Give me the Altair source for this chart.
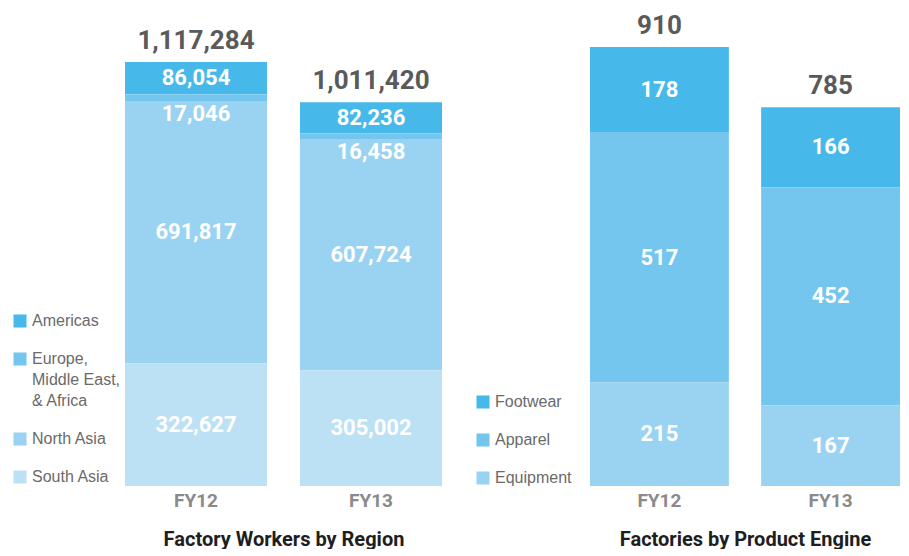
import altair as alt
import pandas as pd

periods = ["FY12", "FY13"]

regions = ["Americas", "Europe, Middle East, & Africa", "North Asia", "South Asia"]
region_fy12 = [86054, 17046, 691817, 322627]
region_fy13 = [82236, 16458, 607724, 305002]
region_totals = [1117284, 1011420]
region_colors = ["#46B9EA", "#74C6EE", "#9AD3F1", "#BCE1F5"]

engines = ["Footwear", "Apparel", "Equipment"]
engine_fy12 = [178, 517, 215]
engine_fy13 = [166, 452, 167]
engine_totals = [910, 785]
engine_colors = ["#46B9EA", "#74C6EE", "#9AD3F1"]

NUM_FONT = "Roboto"
LEG_FONT = "Liberation Sans"


def long_table(cats, fy12, fy13):
    rows = []
    for p, vals in zip(periods, [fy12, fy13]):
        for i, (c, v) in enumerate(zip(cats, vals)):
            rows.append({"period": p, "cat": c, "value": v, "rank": len(cats) - i})
    return pd.DataFrame(rows)


def panel(cats, fy12, fy13, totals, colors, title, ymax, legend_x, legend_y, width):
    df = long_table(cats, fy12, fy13)
    tot = pd.DataFrame({"period": periods, "total": totals})
    x = alt.X(
        "period:N",
        sort=periods,
        scale=alt.Scale(paddingInner=0.1886, paddingOuter=0),
        axis=alt.Axis(
            title=title,
            domain=False,
            ticks=False,
            labelAngle=0,
            labelFont=NUM_FONT,
            labelFontWeight="bold",
            labelFontSize=19,
            labelColor="#8a8a8a",
            labelPadding=5,
            titleFont=NUM_FONT,
            titleFontWeight="bold",
            titleFontSize=20,
            titleColor="#1e1e1e",
            titlePadding=19,
        ),
    )
    yscale = alt.Scale(domain=[0, ymax], nice=False, zero=True)
    base = alt.Chart(df).transform_stack(
        stack="value",
        groupby=["period"],
        sort=[alt.SortField("rank", order="ascending")],
        as_=["v0", "v1"],
    ).transform_calculate(
        mid="(datum.v0 + datum.v1) / 2",
        frac=f"(datum.v1 - datum.v0) / {ymax}",
    )
    bars = base.mark_bar(strokeWidth=0).encode(
        x=x,
        y=alt.Y("v0:Q", scale=yscale, axis=None),
        y2="v1:Q",
        color=alt.Color(
            "cat:N",
            scale=alt.Scale(domain=cats, range=colors),
            legend=alt.Legend(
                title=None,
                orient="none",
                legendX=legend_x,
                legendY=legend_y,
                symbolType="square",
                symbolSize=170,
                symbolStrokeWidth=0,
                labelFont=LEG_FONT,
                labelFontSize=16,
                labelColor="#6a6a6a",
                labelOffset=4,
                rowPadding=22,
                padding=0,
                labelExpr="datum.label == 'Europe, Middle East, & Africa' ? ['Europe,', 'Middle East,', '& Africa'] : datum.label",
            ),
        ),
    )
    big_text = base.transform_filter("datum.frac >= 0.03").mark_text(
        font=NUM_FONT, fontWeight="bold", fontSize=22, color="white", baseline="middle"
    ).encode(
        x=alt.X("period:N", sort=periods),
        y=alt.Y("mid:Q", scale=yscale),
        text=alt.Text("value:Q", format=",d"),
    )
    small_text = base.transform_filter("datum.frac < 0.03").mark_text(
        font=NUM_FONT, fontWeight="bold", fontSize=22, color="white", baseline="top", dy=9
    ).encode(
        x=alt.X("period:N", sort=periods),
        y=alt.Y("v1:Q", scale=yscale),
        text=alt.Text("value:Q", format=",d"),
    )
    tot_text = alt.Chart(tot).mark_text(
        font=NUM_FONT, fontWeight="bold", fontSize=26, color="#5a5a5a",
        baseline="alphabetic", dy=-13,
    ).encode(
        x=alt.X("period:N", sort=periods),
        y=alt.Y("total:Q", scale=yscale),
        text=alt.Text("total:Q", format=",d"),
    )
    return alt.layer(bars, big_text, small_text, tot_text).properties(width=width, height=478)


left = panel(regions, region_fy12, region_fy13, region_totals, region_colors,
             "Factory Workers by Region", 1259579, -113, 305, 317)
right = panel(engines, engine_fy12, engine_fy13, engine_totals, engine_colors,
              "Factories by Product Engine", 990.8, -115, 386, 310)

chart = alt.hconcat(left, right, spacing=148, bounds="flush").resolve_scale(
    color="independent", y="independent", x="independent"
).properties(
    padding={"left": 4, "top": 0, "right": 0, "bottom": 0}
).configure(
    background="white",
    style={"guide-label": {"lineHeight": 21}},
    view=alt.ViewConfig(strokeWidth=0, stroke="transparent"),
)

chart.save("out.html", embed_options={"renderer": "svg", "actions": False})
